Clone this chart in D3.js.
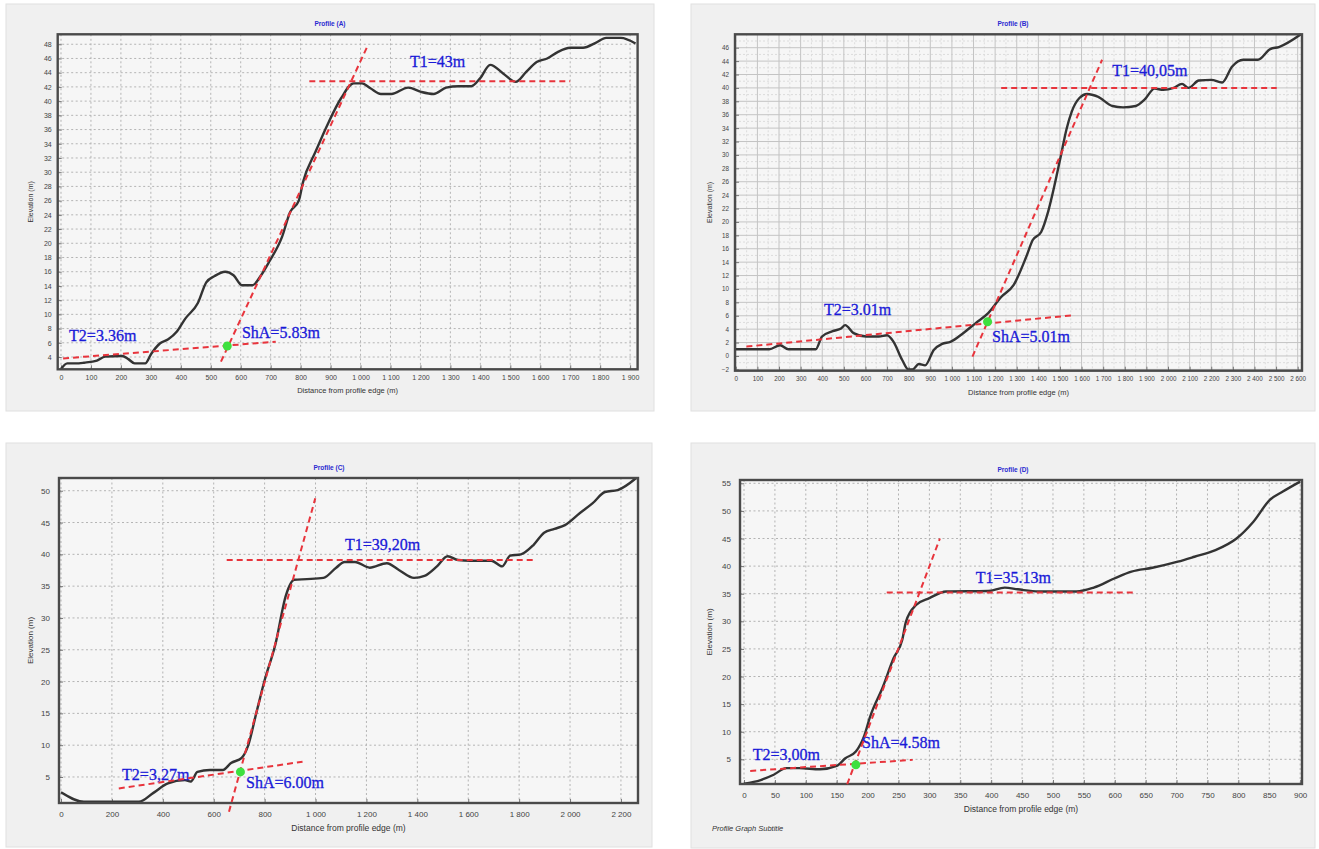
<!DOCTYPE html>
<html>
<head>
<meta charset="utf-8">
<script src="https://cdn.jsdelivr.net/npm/d3@7"></script>
<style>
  body { margin: 0; background: #fff; }
  svg text { font-family: "Liberation Sans", Arial, sans-serif; }
</style>
</head>
<body>
<div id="vis"></div>
<script>
// profile (A)
var distA = [0,21,49,77,120,147,204,225,246,281,302,330,358,387,415,457,485,513,548,576,604,639,668,695,738,765,794,808,850,892,935,977,1005,1033,1068,1103,1159,1202,1244,1286,1328,1370,1399,1433,1476,1518,1553,1588,1623,1658,1700,1743,1785,1820,1869,1918];
var elevA = [2.3,3.1,3.1,3.2,3.5,4.05,4.15,3.7,3.1,3.1,4.5,5.9,6.5,7.6,9.4,11.6,14.5,15.4,16.0,15.5,14.1,14.1,15.5,17.4,20.9,24.4,26,28.6,32.9,36.9,40.4,42.5,42.5,41.8,41.0,41.0,41.9,41.3,41.0,41.9,42.1,42.1,43.2,45.1,43.9,42.7,44.1,45.5,46.0,46.9,47.5,47.5,48.2,48.9,48.9,48.1];
var t1A = [[829,42.8],[1700,42.8]];
var steepA = [[534,3.34],[1025,47.9]];
var t2A = [[7,3.8],[717,6.15]];
var shaA = [555,5.55];
var labelsA = [["T1=43m",1165,44.8],["T2=3.36m",27,6.25],["ShA=5.83m",604,6.7]];

// profile (B)
var distB = [0,155,205,243,370,399,448,487,506,545,603,662,700,730,770,798,818,847,876,916,955,993,1052,1110,1168,1228,1286,1344,1374,1413,1445,1475,1505,1530,1555,1590,1626,1675,1743,1792,1851,1890,1938,1978,2026,2065,2094,2143,2200,2250,2297,2348,2416,2473,2513,2615];
var elevB = [1.0,1.0,1.6,1.0,1.0,2.9,3.7,4.1,4.6,3.4,2.9,2.9,3.1,2.1,-0.6,-2.0,-2.0,-1.2,-1.4,0.9,1.8,2.1,3.4,4.9,6.4,8.8,10.6,14.8,17.3,18.5,21.5,25.5,30.0,33.8,36.5,38.5,39.1,38.7,37.3,37.1,37.3,38.2,39.9,39.7,40.0,40.6,40.0,41.1,41.2,40.8,43.2,44.2,44.2,45.8,46.1,48.0];
var t1B = [[1228,40],[2503,40]];
var steepB = [[1095,-0.1],[1695,44.2]];
var t2B = [[49,1.4],[1568,6.1]];
var shaB = [1165,5.1];
var labelsB = [["T1=40,05m",1742,41.8],["T2=3.01m",408,6.1],["ShA=5.01m",1186,2.07]];

// profile (C)
var distC = [0,90,150,200,250,306,363,420,487,510,536,585,636,668,710,734,767,800,842,884,916,966,1031,1081,1114,1155,1213,1280,1329,1387,1428,1477,1519,1560,1608,1691,1733,1765,1807,1857,1898,1939,1980,2039,2088,2137,2187,2260];
var elevC = [2.6,1.1,1.1,1.1,1.1,1.1,2.5,4.0,4.5,4.3,5.8,6.1,6.1,7.2,8.0,9.8,15,20.2,25.8,33.6,36,36.1,36.3,37.9,38.8,38.8,37.9,38.6,37.5,36.3,36.6,38.1,39.7,39.1,39.0,39.0,38.1,39.8,40,41.5,43.4,44,44.6,46.5,48,49.8,50.1,52];
var t1C = [[651,39.1],[1857,39.1]];
var steepC = [[660,-0.45],[999,48.8]];
var t2C = [[227,3.2],[949,7.4]];
var shaC = [705,5.8];
var labelsC = [["T1=39,20m",1116,40.7],["T2=3,27m",240,4.5],["ShA=6.00m",727,3.3]];

// profile (D)
var distD = [0,27,48,68,89,123,150,164,181,194,204,225,242,256,262,279,300,327,395,422,443,477,538,566,600,627,661,702,729,763,797,824,851,872,900];
var elevD = [0.6,1.25,2.2,3.4,3.4,3.2,3.8,5.2,6.4,9.1,12.7,18.2,23.3,26.6,29.9,33.0,34.2,35.4,35.5,36.1,35.8,35.4,35.4,36.1,37.8,39.0,39.7,40.8,41.7,42.9,45.0,48.0,52.0,53.5,55.3];
var t1D = [[231,35.2],[634,35.2]];
var steepD = [[167,0.5],[317,45]];
var t2D = [[10,2.9],[273,4.9]];
var shaD = [181,4.0];
var labelsD = [["T1=35.13m",375,36.9],["T2=3,00m",14,4.9],["ShA=4.58m",191,7.05]];

// tick values
var xTicksA = d3.range(0, 1901, 100), yTicksA = d3.range(4, 49, 2);
var xTicksB = d3.range(0, 2601, 100), yTicksB = d3.range(-2, 47, 2);
var xTicksC = d3.range(0, 2201, 200), yTicksC = d3.range(5, 51, 5);
var xTicksD = d3.range(0, 901, 50),  yTicksD = d3.range(5, 56, 5);

var fmt = d3.formatLocale({decimal: ".", thousands: " ", grouping: [3], currency: ["", ""]}).format(",");

var svg = d3.select("#vis").append("svg")
  .attr("width", 1319).attr("height", 849)
  .style("background-color", "#fff");

// layout of each panel (pixels)
var panels = [
  {title: "Profile (A)", bg: [6,4,648,407], box: [57.7,34.3,637.6,369.3], xd: [-11,1925], yd: [2.27,49.4],
   dist: distA, elev: elevA, t1: t1A, steep: steepA, t2: t2A, sha: shaA, labels: labelsA,
   xt: xTicksA, yt: yTicksA, fs: 7, ylx: 33, minor: false},
  {title: "Profile (B)", bg: [691,4,624,407], box: [735,34.3,1302,370.7], xd: [-3.7,2620], yd: [-2.2,48],
   dist: distB, elev: elevB, t1: t1B, steep: steepB, t2: t2B, sha: shaB, labels: labelsB,
   xt: xTicksB, yt: yTicksB, fs: 6.3, ylx: 712, minor: true},
  {title: "Profile (C)", bg: [6,443,646,404], box: [59,478,638,803], xd: [-7.9,2267], yd: [0.91,52],
   dist: distC, elev: elevC, t1: t1C, steep: steepC, t2: t2C, sha: shaC, labels: labelsC,
   xt: xTicksC, yt: yTicksC, fs: 8, ylx: 33, minor: false},
  {title: "Profile (D)", bg: [691,443,624,405], box: [740,480,1302,784], xd: [-6.5,903], yd: [0.53,55.6],
   dist: distD, elev: elevD, t1: t1D, steep: steepD, t2: t2D, sha: shaD, labels: labelsD,
   xt: xTicksD, yt: yTicksD, fs: 8, ylx: 712, minor: false, subtitle: "Profile Graph Subtitle"}
];

panels.forEach(function(p) {
  var g = svg.append("g");
  var L = p.box[0], T = p.box[1], R = p.box[2], B = p.box[3];

  g.append("rect")
    .attr("x", p.bg[0]).attr("y", p.bg[1]).attr("width", p.bg[2]).attr("height", p.bg[3])
    .attr("fill", "#f0f0f0").attr("stroke", "#e0e0e0");

  g.append("rect")
    .attr("x", L).attr("y", T).attr("width", R - L).attr("height", B - T)
    .attr("fill", "#f6f6f6");

  var x = d3.scaleLinear().domain(p.xd).range([L, R]);
  var y = d3.scaleLinear().domain(p.yd).range([B, T]);

  // grid
  var grid = g.append("g");
  if (p.minor) {
    var xm = p.xt.map(function(d){ return d + 50; }).filter(function(d){ return d < p.xd[1]; });
    var ym = p.yt.map(function(d){ return d + 1; }).filter(function(d){ return d < p.yd[1]; });
    grid.selectAll(".vm").data(xm).enter().append("line")
      .attr("x1", d => x(d)).attr("x2", d => x(d)).attr("y1", T).attr("y2", B)
      .attr("stroke", "#dcdcdc").attr("stroke-dasharray", "2,2");
    grid.selectAll(".hm").data(ym).enter().append("line")
      .attr("x1", L).attr("x2", R).attr("y1", d => y(d)).attr("y2", d => y(d))
      .attr("stroke", "#dcdcdc").attr("stroke-dasharray", "2,2");
  }
  grid.selectAll(".v").data(p.xt).enter().append("line")
    .attr("x1", d => x(d)).attr("x2", d => x(d)).attr("y1", T).attr("y2", B)
    .attr("stroke", p.minor ? "#c4c4c4" : "#b4b4b4")
    .attr("stroke-dasharray", p.minor ? null : "2,2.5");
  grid.selectAll(".h").data(p.yt).enter().append("line")
    .attr("x1", L).attr("x2", R).attr("y1", d => y(d)).attr("y2", d => y(d))
    .attr("stroke", p.minor ? "#c4c4c4" : "#b4b4b4")
    .attr("stroke-dasharray", p.minor ? null : "2,2.5");

  // axes
  var xAxis = g.append("g")
    .attr("transform", `translate(0,${B})`)
    .call(d3.axisBottom(x).tickValues(p.xt).tickFormat(fmt).tickSizeInner(-4).tickSizeOuter(0).tickPadding(p.fs > 7 ? 8 : 6));
  var yAxis = g.append("g")
    .attr("transform", `translate(${L},0)`)
    .call(d3.axisLeft(y).tickValues(p.yt).tickFormat(fmt).tickSizeInner(-4).tickSizeOuter(0).tickPadding(p.fs > 7 ? 9 : 6));
  [xAxis, yAxis].forEach(function(a) {
    a.select(".domain").remove();
    a.selectAll("line").attr("stroke", "#777");
    a.selectAll("text").attr("fill", "#444").style("font-size", p.fs + "px")
      .style("font-family", "'Liberation Sans', Arial, sans-serif");
  });

  // curve
  var line = d3.line().x(d => x(d[0])).y(d => y(d[1])).curve(d3.curveMonotoneX);
  g.append("path")
    .datum(p.dist.map(function(d, i){ return [d, p.elev[i]]; }))
    .attr("d", line)
    .attr("fill", "none").attr("stroke", "#333").attr("stroke-width", 2.4);

  // frame
  g.append("rect")
    .attr("x", L).attr("y", T).attr("width", R - L).attr("height", B - T)
    .attr("fill", "none").attr("stroke", "#4a4a4a").attr("stroke-width", 2.4);

  // annotation labels
  g.selectAll(".lab").data(p.labels).enter().append("text")
    .attr("x", d => x(d[1])).attr("y", d => y(d[2]))
    .text(d => d[0])
    .style("font-family", "'Liberation Serif', 'Times New Roman', serif")
    .style("font-size", "16px")
    .attr("fill", "#1a1ad8").attr("stroke", "#1a1ad8").attr("stroke-width", 0.3);

  // dashed red lines
  var straight = d3.line().x(d => x(d[0])).y(d => y(d[1]));
  [p.t1, p.steep, p.t2].forEach(function(seg) {
    g.append("path").attr("d", straight(seg))
      .attr("fill", "none").attr("stroke", "#e8343c").attr("stroke-width", 2)
      .attr("stroke-dasharray", "6,4");
  });

  g.append("circle")
    .attr("cx", x(p.sha[0])).attr("cy", y(p.sha[1])).attr("r", 4.5)
    .attr("fill", "#3ee03e");

  // titles
  g.append("text")
    .attr("x", (p.bg[0] + p.bg[0] + p.bg[2]) / 2 + (p.bg[0] > 600 ? 10 : 0)).attr("y", T - 8)
    .attr("text-anchor", "middle")
    .style("font-size", "6.5px").style("font-weight", "bold")
    .attr("fill", "#2a2ad0")
    .text(p.title);

  g.append("text")
    .attr("x", (L + R) / 2).attr("y", B + (p.fs > 7 ? 28 : 24))
    .attr("text-anchor", "middle")
    .style("font-size", (p.fs > 7 ? 8.5 : 7.5) + "px").attr("fill", "#333")
    .text("Distance from profile edge (m)");

  g.append("text")
    .attr("transform", `translate(${p.ylx},${(T + B) / 2}) rotate(-90)`)
    .attr("text-anchor", "middle")
    .style("font-size", (p.fs > 7 ? 8 : 7) + "px").attr("fill", "#333")
    .text("Elevation (m)");

  if (p.subtitle) {
    g.append("text")
      .attr("x", 712).attr("y", B + 47)
      .style("font-size", "7.5px").style("font-style", "italic").attr("fill", "#333")
      .text(p.subtitle);
  }
});
</script>
</body>
</html>
